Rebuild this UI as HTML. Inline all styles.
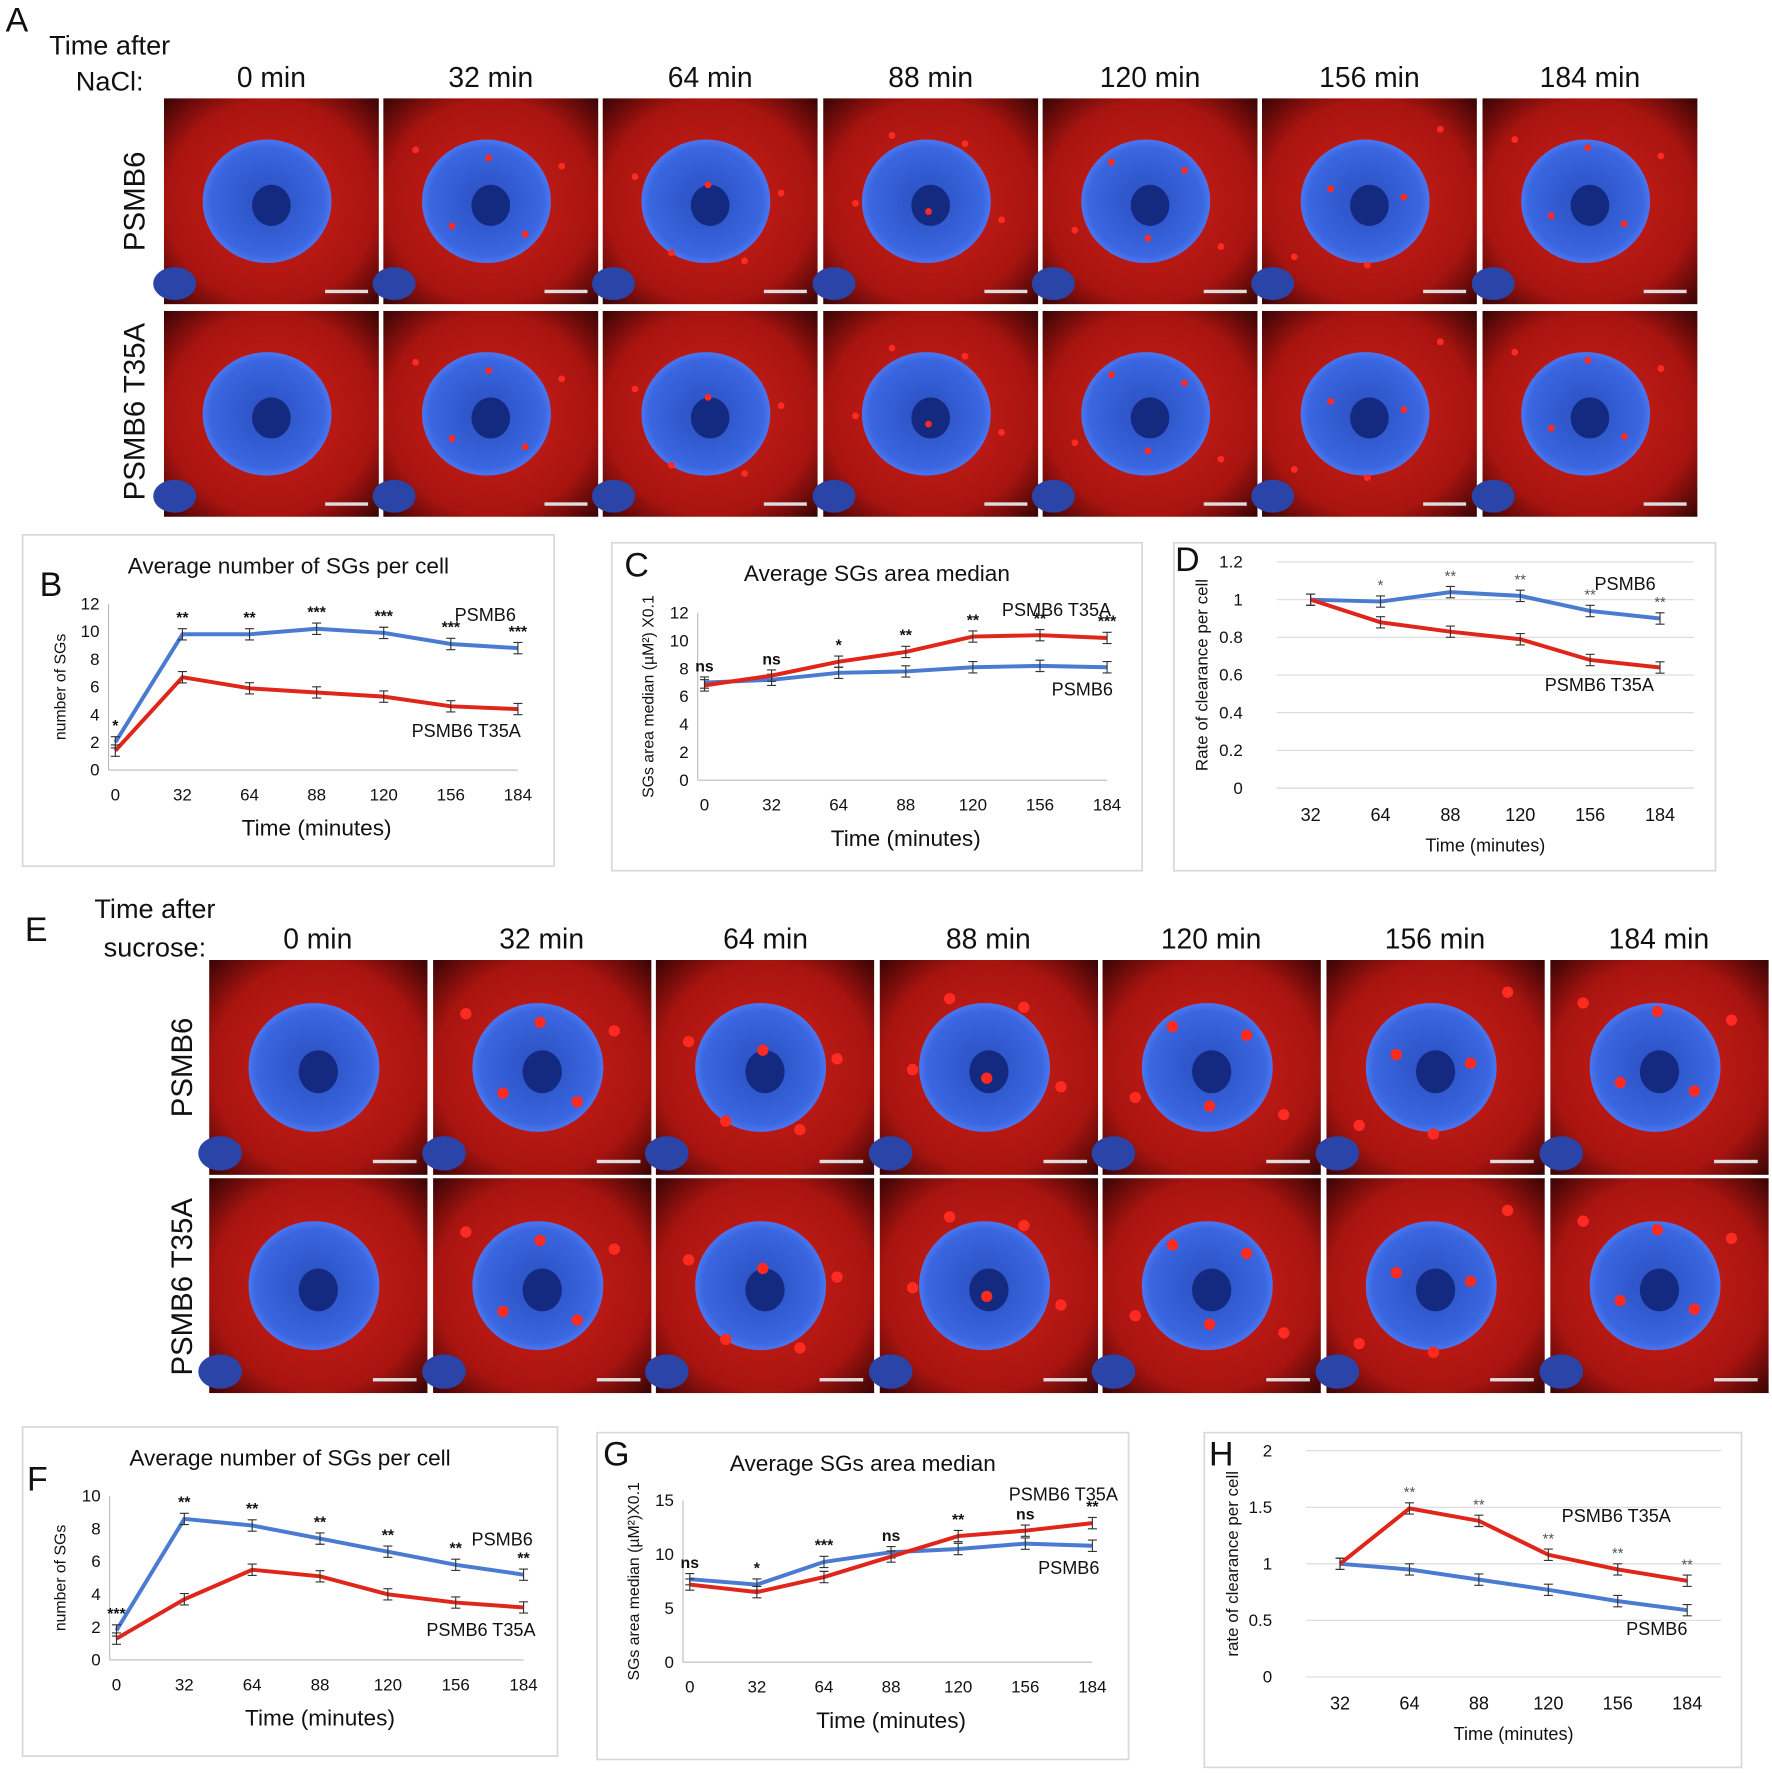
<!DOCTYPE html>
<html><head><meta charset="utf-8">
<style>
html,body{margin:0;padding:0;background:#fff;}
svg{display:block;font-family:"Liberation Sans",sans-serif;}
</style></head>
<body>
<svg id="fig" width="1772" height="1773" viewBox="0 0 1567 1568" preserveAspectRatio="none" xmlns="http://www.w3.org/2000/svg">
<defs>
<radialGradient id="redbg" cx="50%" cy="50%" r="70%">
<stop offset="0%" stop-color="#d0201a"/><stop offset="70%" stop-color="#a81410"/><stop offset="100%" stop-color="#3a0505"/>
</radialGradient>
<radialGradient id="nuc" cx="50%" cy="50%" r="55%">
<stop offset="0%" stop-color="#2a4fc0"/><stop offset="80%" stop-color="#3a66e0"/><stop offset="100%" stop-color="#5a84ff"/>
</radialGradient>
</defs>
<g id="micro"></g>
<g id="charts"></g>
</svg>
<script>
// ---------- chart data ----------
const catsTime7 = ["0","32","64","88","120","156","184"];
const catsTime6 = ["32","64","88","120","156","184"];
const bPSMB6 = [2.0, 9.8, 9.8, 10.2, 9.9, 9.1, 8.8];
const bT35A = [1.4, 6.7, 5.9, 5.6, 5.3, 4.6, 4.4];
const bStars = ["*","**","**","***","***","***","***"];
const cPSMB6 = [7.0, 7.2, 7.7, 7.8, 8.1, 8.2, 8.1];
const cT35A = [6.8, 7.5, 8.5, 9.2, 10.3, 10.4, 10.2];
const cStars = ["ns","ns","*","**","**","**","***"];
const dPSMB6 = [1.0, 0.99, 1.04, 1.02, 0.94, 0.90];
const dT35A = [1.0, 0.88, 0.83, 0.79, 0.68, 0.64];
const dStars = ["","*","**","**","**","**"];
const fPSMB6 = [1.8, 8.6, 8.2, 7.4, 6.6, 5.8, 5.2];
const fT35A = [1.3, 3.7, 5.5, 5.1, 4.0, 3.5, 3.2];
const fStars = ["***","**","**","**","**","**","**"];
const gPSMB6 = [7.7, 7.2, 9.3, 10.2, 10.5, 11.0, 10.8];
const gT35A = [7.2, 6.5, 7.9, 9.8, 11.7, 12.2, 12.9];
const gStars = ["ns","*","***","ns","**","ns","**"];
const hPSMB6 = [1.0, 0.95, 0.86, 0.77, 0.67, 0.59];
const hT35A = [1.0, 1.49, 1.38, 1.08, 0.95, 0.85];
const hStars = ["","**","**","**","**","**"];
const bTicks = [0,2,4,6,8,10,12];
const dTicks = [0,0.2,0.4,0.6,0.8,1,1.2];
const fTicks = [0,2,4,6,8,10];
const gTicks = [0,5,10,15];
const hTicks = [0,0.5,1,1.5,2];

const NS="http://www.w3.org/2000/svg";
const micro=document.getElementById('micro');
const charts=document.getElementById('charts');
function mk(tag,attrs,parent){const e=document.createElementNS(NS,tag);for(const k in attrs)e.setAttribute(k,attrs[k]);parent.appendChild(e);return e;}
function txt(s,x,y,size,parent,anchor,extra){const t=mk('text',Object.assign({x:x,y:y,'font-size':size,'text-anchor':anchor||'middle',fill:'#111'},extra||{}),parent);t.textContent=s;return t;}

// ---------- microscopy ----------
function drawCells(xs,w,ys,h,sucrose){
  ys.forEach((y,ri)=>xs.forEach((x,ci)=>{
    const g=mk('g',{},micro);
    
    
    mk('rect',{x:x,y:y,width:w,height:h,fill:'url(#redbg)'},g);
    mk('ellipse',{cx:x+w*0.48,cy:y+h*0.5,rx:w*0.3,ry:h*0.3,fill:'url(#nuc)'},g);
    mk('ellipse',{cx:x+w*0.5,cy:y+h*0.52,rx:w*0.09,ry:h*0.1,fill:'#142a80'},g);
    mk('ellipse',{cx:x+w*0.05,cy:y+h*0.9,rx:w*0.1,ry:h*0.08,fill:'#2a44a8'},g);
    if(ci>0){for(let k=0;k<5;k++){mk('circle',{cx:x+w*(0.15+0.17*k),cy:y+h*(0.12+((k*37+ci*13)%70)/100),r:sucrose?5:3,fill:'#ff2a20'},g);}}
    mk('rect',{x:x+w*0.75,y:y+h*0.93,width:w*0.2,height:3,fill:'#ddd'},g);
  }));
}
drawCells([145,339,533,728,922,1116,1311],190,[87,275],182,false);
drawCells([185,383,580,778,975,1173,1371],193,[849,1042],190,true);

const labelsA=["0 min","32 min","64 min","88 min","120 min","156 min","184 min"];
[240,434,628,823,1017,1211,1406].forEach((x,i)=>{const t=txt(labelsA[i],x,77,25,micro);});
[281,479,677,874,1071,1269,1467].forEach((x,i)=>{const t=txt(labelsA[i],x,839,25,micro);});
let t;
t=txt("A",15,28,30,micro);
t=txt("Time after",97,48,24,micro);
t=txt("NaCl:",97,80,24,micro);
t=txt("E",32,832,30,micro);
t=txt("Time after",137,812,24,micro);
t=txt("sucrose:",137,846,24,micro);
function vlabel(s,x,y,size,name){const e=txt(s,x,y,size,micro,'middle',{transform:'rotate(-90 '+x+' '+y+')'});}
vlabel("PSMB6",128,178,26,'row-label-psmb6-a');
vlabel("PSMB6 T35A",128,364,26,'row-label-t35a-a');
vlabel("PSMB6",170,944,26,'row-label-psmb6-e');
vlabel("PSMB6 T35A",170,1138,26,'row-label-t35a-e');

// ---------- charts ----------
function chart(c){
  const g=mk('g',{},charts);
  
  
  mk('rect',{x:c.box[0],y:c.box[1],width:c.box[2],height:c.box[3],fill:'#fff',stroke:'#d8d8d8','stroke-width':1.5},g);
  const n=c.cats.length;
  const xs=i=>c.x0+(c.x1-c.x0)*i/(n-1);
  const ymax=c.ticks[c.ticks.length-1];
  const ys=v=>c.y0+(c.y1-c.y0)*v/ymax;
  c.ticks.forEach(v=>{
    if(c.grid){const l=mk('line',{x1:c.x0-30,x2:c.x1+30,y1:ys(v),y2:ys(v),stroke:'#d9d9d9','stroke-width':1},g);}
    const e=txt(String(v),c.x0-(c.grid?60:14),ys(v)+5,15,g,'end');
    
  });
  if(!c.grid){
    mk('line',{x1:c.x0-6,x2:c.x0-6,y1:c.y0,y2:c.y1,stroke:'#bbb'},g);
    mk('line',{x1:c.x0-6,x2:c.x1,y1:c.y0,y2:c.y0,stroke:'#bbb'},g);
  }
  c.cats.forEach((s,i)=>{const e=txt(s,xs(i),c.y0+(c.grid?29:27),c.grid?16:15,g);});
  let e=txt(c.title,(c.box[0]+c.box[0]+c.box[2])/2,c.box[1]+34,20,g);
  e=txt(c.xtitle,(c.x0+c.x1)/2,c.y0+(c.grid?56:58),c.grid?16:20,g);
  const yx=c.ytx, yy=(c.y0+c.y1)/2;
  e=txt(c.ytitle,yx,yy,c.ytsize||14,g,'middle',{transform:'rotate(-90 '+yx+' '+yy+')'});
  e=txt(c.letter,c.letterPos[0],c.letterPos[1],30,g);
  [[c.s1,'#4a7bd0','psmb6'],[c.s2,'#e0251b','t35a']].forEach(([arr,col,nm])=>{
    const pts=arr.map((v,i)=>xs(i)+','+ys(v)).join(' ');
    const pl=mk('polyline',{points:pts,fill:'none',stroke:col,'stroke-width':3.5},g);
    
    arr.forEach((v,i)=>{
      const eb=mk('path',{d:'M'+(xs(i)-4)+' '+(ys(v)-5)+'h8M'+xs(i)+' '+(ys(v)-5)+'v10M'+(xs(i)-4)+' '+(ys(v)+5)+'h8',stroke:'#333','stroke-width':1,fill:'none'},g);
      
    });
  });
  c.stars.forEach((s,i)=>{if(!s)return;const top=Math.max(c.s1[i],c.s2[i]);const e=txt(s,xs(i),ys(top)-10,c.grid?13:14,g,'middle',{'font-weight':c.grid?'normal':'bold',fill:c.grid?'#555':'#111'});});
  e=txt('PSMB6',c.l1[0],c.l1[1],16,g,'start');
  e=txt('PSMB6 T35A',c.l2[0],c.l2[1],16,g,'start');
}
chart({name:'chart-b',box:[20,473,470,293],cats:catsTime7,ticks:bTicks,s1:bPSMB6,s2:bT35A,stars:bStars,x0:102,x1:458,y0:681,y1:534,title:'Average number of SGs per cell',xtitle:'Time (minutes)',ytitle:'number of SGs',ytx:58,letter:'B',letterPos:[45,527],l1:[402,549],l2:[364,652]});
chart({name:'chart-c',box:[541,480,469,290],cats:catsTime7,ticks:bTicks,s1:cPSMB6,s2:cT35A,stars:cStars,x0:623,x1:979,y0:690,y1:542,title:'Average SGs area median',xtitle:'Time (minutes)',ytitle:'SGs area median (µM²) X0.1',ytx:578,letter:'C',letterPos:[563,510],l1:[930,615],l2:[886,545]});
chart({name:'chart-d',box:[1038,480,479,290],cats:catsTime6,ticks:dTicks,grid:true,s1:dPSMB6,s2:dT35A,stars:dStars,x0:1159,x1:1468,y0:697,y1:497,title:'',xtitle:'Time (minutes)',ytitle:'Rate of clearance per cell',ytx:1068,ytsize:15,letter:'D',letterPos:[1050,505],l1:[1410,522],l2:[1366,611]});
chart({name:'chart-f',box:[20,1262,473,291],cats:catsTime7,ticks:fTicks,s1:fPSMB6,s2:fT35A,stars:fStars,x0:103,x1:463,y0:1468,y1:1323,title:'Average number of SGs per cell',xtitle:'Time (minutes)',ytitle:'number of SGs',ytx:58,letter:'F',letterPos:[33,1318],l1:[417,1367],l2:[377,1447]});
chart({name:'chart-g',box:[528,1267,470,289],cats:catsTime7,ticks:gTicks,s1:gPSMB6,s2:gT35A,stars:gStars,x0:610,x1:966,y0:1470,y1:1327,title:'Average SGs area median',xtitle:'Time (minutes)',ytitle:'SGs area median (µM²)X0.1',ytx:565,letter:'G',letterPos:[545,1296],l1:[918,1392],l2:[892,1327]});
chart({name:'chart-h',box:[1065,1267,475,296],cats:catsTime6,ticks:hTicks,grid:true,s1:hPSMB6,s2:hT35A,stars:hStars,x0:1185,x1:1492,y0:1483,y1:1283,title:'',xtitle:'Time (minutes)',ytitle:'rate of clearance per cell',ytx:1095,ytsize:15,letter:'H',letterPos:[1080,1296],l1:[1438,1446],l2:[1381,1346]});
</script>
</body></html>
